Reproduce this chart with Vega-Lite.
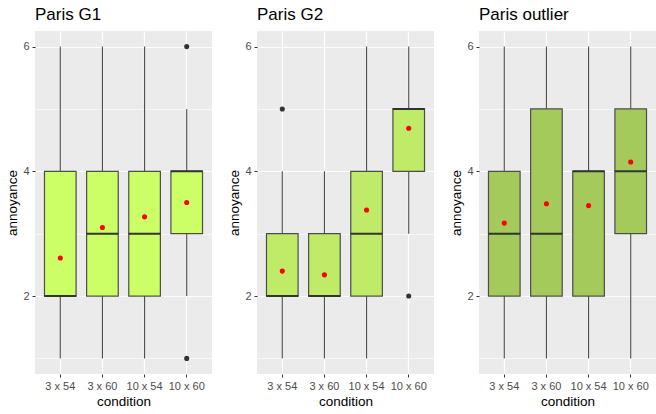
{
  "$schema": "https://vega.github.io/schema/vega-lite/v6.json",
  "padding": {"left": 5, "top": 6, "right": 0, "bottom": 2},
  "background": "white",
  "spacing": 15,
  "datasets": {
    "stats": [
      {"panel": "G1", "condition": "3 x 54", "lower": 1, "q1": 2, "median": 2, "q3": 4, "upper": 6, "mean": 2.61},
      {"panel": "G1", "condition": "3 x 60", "lower": 1, "q1": 2, "median": 3, "q3": 4, "upper": 6, "mean": 3.10},
      {"panel": "G1", "condition": "10 x 54", "lower": 1, "q1": 2, "median": 3, "q3": 4, "upper": 6, "mean": 3.27},
      {"panel": "G1", "condition": "10 x 60", "lower": 2, "q1": 3, "median": 4, "q3": 4, "upper": 5, "mean": 3.50},
      {"panel": "G2", "condition": "3 x 54", "lower": 1, "q1": 2, "median": 2, "q3": 3, "upper": 4, "mean": 2.40},
      {"panel": "G2", "condition": "3 x 60", "lower": 1, "q1": 2, "median": 2, "q3": 3, "upper": 4, "mean": 2.34},
      {"panel": "G2", "condition": "10 x 54", "lower": 1, "q1": 2, "median": 3, "q3": 4, "upper": 6, "mean": 3.38},
      {"panel": "G2", "condition": "10 x 60", "lower": 3, "q1": 4, "median": 5, "q3": 5, "upper": 6, "mean": 4.69},
      {"panel": "OUT", "condition": "3 x 54", "lower": 1, "q1": 2, "median": 3, "q3": 4, "upper": 6, "mean": 3.17},
      {"panel": "OUT", "condition": "3 x 60", "lower": 1, "q1": 2, "median": 3, "q3": 5, "upper": 6, "mean": 3.48},
      {"panel": "OUT", "condition": "10 x 54", "lower": 1, "q1": 2, "median": 4, "q3": 4, "upper": 6, "mean": 3.45},
      {"panel": "OUT", "condition": "10 x 60", "lower": 1, "q1": 3, "median": 4, "q3": 5, "upper": 6, "mean": 4.15}
    ],
    "outliers": [
      {"panel": "G1", "condition": "10 x 60", "value": 6},
      {"panel": "G1", "condition": "10 x 60", "value": 1},
      {"panel": "G2", "condition": "3 x 54", "value": 5},
      {"panel": "G2", "condition": "10 x 60", "value": 2}
    ]
  },
  "hconcat": [
    {
      "width": 177, "height": 343,
      "title": {"text": "Paris G1"},
      "encoding": {
        "x": {"field": "condition", "type": "nominal", "sort": ["3 x 54", "3 x 60", "10 x 54", "10 x 60"], "scale": {"paddingInner": 0, "paddingOuter": 0.1}, "axis": {"title": "condition", "labelAngle": 0, "grid": true, "bandPosition": 0.5}}
      },
      "layer": [
        {"data": {"name": "stats"}, "transform": [{"filter": "datum.panel === 'G1'"}], "mark": {"type": "rule", "color": "#4D4D4D", "strokeWidth": 1.1},
         "encoding": {"y": {"field": "lower", "type": "quantitative", "scale": {"domain": [0.75, 6.25], "nice": false, "zero": false},
           "axis": {"title": "annoyance", "format": "d", "values": [1, 2, 3, 4, 5, 6], "labelExpr": "datum.value % 2 === 0 ? datum.label : ''", "gridWidth": {"condition": {"test": "datum.value % 2 === 0", "value": 1.2}, "value": 0.6}, "tickOpacity": {"condition": {"test": "datum.value % 2 === 0", "value": 1}, "value": 0}}},
           "y2": {"field": "upper"}}},
        {"data": {"name": "stats"}, "transform": [{"filter": "datum.panel === 'G1'"}], "mark": {"type": "bar", "width": {"band": 0.75}, "fill": "#CCFF66", "stroke": "#4D4D4D", "strokeWidth": 1.2},
         "encoding": {"y": {"field": "q1", "type": "quantitative"}, "y2": {"field": "q3"}}},
        {"data": {"name": "stats"}, "transform": [{"filter": "datum.panel === 'G1'"}], "mark": {"type": "tick", "orient": "horizontal", "color": "#333333", "thickness": 2, "size": 32, "opacity": 1},
         "encoding": {"y": {"field": "median", "type": "quantitative"}}},
        {"data": {"name": "stats"}, "transform": [{"filter": "datum.panel === 'G1'"}], "mark": {"type": "circle", "color": "red", "size": 26, "opacity": 1},
         "encoding": {"y": {"field": "mean", "type": "quantitative"}}},
        {"data": {"name": "outliers"}, "transform": [{"filter": "datum.panel === 'G1'"}], "mark": {"type": "circle", "color": "#333333", "size": 26, "opacity": 1},
         "encoding": {"y": {"field": "value", "type": "quantitative"}}}
      ]
    },
    {
      "width": 177, "height": 343,
      "title": {"text": "Paris G2"},
      "encoding": {
        "x": {"field": "condition", "type": "nominal", "sort": ["3 x 54", "3 x 60", "10 x 54", "10 x 60"], "scale": {"paddingInner": 0, "paddingOuter": 0.1}, "axis": {"title": "condition", "labelAngle": 0, "grid": true, "bandPosition": 0.5}}
      },
      "layer": [
        {"data": {"name": "stats"}, "transform": [{"filter": "datum.panel === 'G2'"}], "mark": {"type": "rule", "color": "#4D4D4D", "strokeWidth": 1.1},
         "encoding": {"y": {"field": "lower", "type": "quantitative", "scale": {"domain": [0.75, 6.25], "nice": false, "zero": false},
           "axis": {"title": "annoyance", "format": "d", "values": [1, 2, 3, 4, 5, 6], "labelExpr": "datum.value % 2 === 0 ? datum.label : ''", "gridWidth": {"condition": {"test": "datum.value % 2 === 0", "value": 1.2}, "value": 0.6}, "tickOpacity": {"condition": {"test": "datum.value % 2 === 0", "value": 1}, "value": 0}}},
           "y2": {"field": "upper"}}},
        {"data": {"name": "stats"}, "transform": [{"filter": "datum.panel === 'G2'"}], "mark": {"type": "bar", "width": {"band": 0.75}, "fill": "#BFEB69", "stroke": "#4D4D4D", "strokeWidth": 1.2},
         "encoding": {"y": {"field": "q1", "type": "quantitative"}, "y2": {"field": "q3"}}},
        {"data": {"name": "stats"}, "transform": [{"filter": "datum.panel === 'G2'"}], "mark": {"type": "tick", "orient": "horizontal", "color": "#333333", "thickness": 2, "size": 32, "opacity": 1},
         "encoding": {"y": {"field": "median", "type": "quantitative"}}},
        {"data": {"name": "stats"}, "transform": [{"filter": "datum.panel === 'G2'"}], "mark": {"type": "circle", "color": "red", "size": 26, "opacity": 1},
         "encoding": {"y": {"field": "mean", "type": "quantitative"}}},
        {"data": {"name": "outliers"}, "transform": [{"filter": "datum.panel === 'G2'"}], "mark": {"type": "circle", "color": "#333333", "size": 26, "opacity": 1},
         "encoding": {"y": {"field": "value", "type": "quantitative"}}}
      ]
    },
    {
      "width": 177, "height": 343,
      "title": {"text": "Paris outlier"},
      "encoding": {
        "x": {"field": "condition", "type": "nominal", "sort": ["3 x 54", "3 x 60", "10 x 54", "10 x 60"], "scale": {"paddingInner": 0, "paddingOuter": 0.1}, "axis": {"title": "condition", "labelAngle": 0, "grid": true, "bandPosition": 0.5}}
      },
      "layer": [
        {"data": {"name": "stats"}, "transform": [{"filter": "datum.panel === 'OUT'"}], "mark": {"type": "rule", "color": "#4D4D4D", "strokeWidth": 1.1},
         "encoding": {"y": {"field": "lower", "type": "quantitative", "scale": {"domain": [0.75, 6.25], "nice": false, "zero": false},
           "axis": {"title": "annoyance", "format": "d", "values": [1, 2, 3, 4, 5, 6], "labelExpr": "datum.value % 2 === 0 ? datum.label : ''", "gridWidth": {"condition": {"test": "datum.value % 2 === 0", "value": 1.2}, "value": 0.6}, "tickOpacity": {"condition": {"test": "datum.value % 2 === 0", "value": 1}, "value": 0}}},
           "y2": {"field": "upper"}}},
        {"data": {"name": "stats"}, "transform": [{"filter": "datum.panel === 'OUT'"}], "mark": {"type": "bar", "width": {"band": 0.75}, "fill": "#A3CA5B", "stroke": "#4D4D4D", "strokeWidth": 1.2},
         "encoding": {"y": {"field": "q1", "type": "quantitative"}, "y2": {"field": "q3"}}},
        {"data": {"name": "stats"}, "transform": [{"filter": "datum.panel === 'OUT'"}], "mark": {"type": "tick", "orient": "horizontal", "color": "#333333", "thickness": 2, "size": 32, "opacity": 1},
         "encoding": {"y": {"field": "median", "type": "quantitative"}}},
        {"data": {"name": "stats"}, "transform": [{"filter": "datum.panel === 'OUT'"}], "mark": {"type": "circle", "color": "red", "size": 26, "opacity": 1},
         "encoding": {"y": {"field": "mean", "type": "quantitative"}}}
      ]
    }
  ],
  "config": {
    "view": {"fill": "#EBEBEB", "stroke": null},
    "font": "Liberation Sans",
    "title": {"font": "Liberation Sans", "fontSize": 17, "fontWeight": "normal", "anchor": "start", "frame": "group", "color": "black", "offset": 7},
    "axis": {"domain": false, "tickColor": "#333333", "tickSize": 3, "tickWidth": 1, "labelColor": "#4D4D4D", "labelFont": "Liberation Sans", "labelFontSize": 11, "labelPadding": 3, "titleFont": "Liberation Sans", "titleFontSize": 13.5, "titleFontWeight": "normal", "titleColor": "black", "titlePadding": 3, "gridColor": "white", "gridWidth": 1.2, "gridOpacity": 1}
  }
}
